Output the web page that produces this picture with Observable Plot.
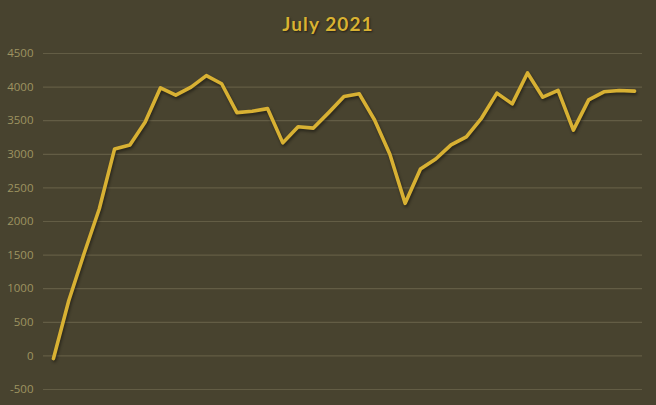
<!DOCTYPE html>
<html>
<head>
<meta charset="utf-8">
<script src="https://cdn.jsdelivr.net/npm/d3@7"></script>
<script src="https://cdn.jsdelivr.net/npm/@observablehq/plot@0.6"></script>
<style>
  html, body { margin: 0; padding: 0; background: #48432f; }
  #wrap { width: 656px; height: 405px; background: #48432f; overflow: hidden; }
  #title { height: 40px; line-height: 48px; text-align: center; font-family: Lato, "Open Sans", sans-serif; font-weight: bold; font-size: 19px; letter-spacing: 1.1px; color: #d9b232; text-shadow: 1px 1px 2px rgba(0,0,0,0.55); }
  .series path { filter: drop-shadow(1px 2px 1.5px rgba(0,0,0,0.45)); }
</style>
</head>
<body>
<div id="wrap">
  <div id="title">July 2021</div>
  <div id="chart"></div>
</div>
<script>
const titleText = "July 2021";
const points = d3.range(39);
const values = [-40, 820, 1520, 2190, 3080, 3140, 3480, 3990, 3880, 4000,
                4170, 4050, 3620, 3640, 3680, 3170, 3410, 3390, 3620, 3860,
                3900, 3510, 3000, 2270, 2780, 2930, 3140, 3260, 3540, 3910,
                3750, 4210, 3850, 3950, 3360, 3810, 3930, 3950, 3940];
const yTicks = [-500, 0, 500, 1000, 1500, 2000, 2500, 3000, 3500, 4000, 4500];

const data = points.map((i) => ({i, v: values[i]}));

const chart = Plot.plot({
  width: 656,
  height: 365,
  marginTop: 13,
  marginBottom: 16,
  marginLeft: 43,
  marginRight: 14,
  style: {background: "transparent", fontFamily: "'Open Sans', sans-serif", fontSize: "11.5px", color: "#9e9461"},
  x: {domain: [-0.65, 38.52], axis: null},
  y: {domain: [-500, 4500], ticks: yTicks},
  marks: [
    Plot.gridY(yTicks, {stroke: "#635d45", strokeOpacity: 1, strokeWidth: 1.2}),
    Plot.axisY(yTicks, {tickSize: 0, tickPadding: 10, tickFormat: (d) => `${d}`, fill: "#9e9461", label: null}),
    Plot.line(data, {x: "i", y: "v", stroke: "#d8b133", strokeWidth: 3.6, strokeLinejoin: "round", strokeLinecap: "round", className: "series"})
  ]
});
document.getElementById("chart").appendChild(chart);
</script>
</body>
</html>
